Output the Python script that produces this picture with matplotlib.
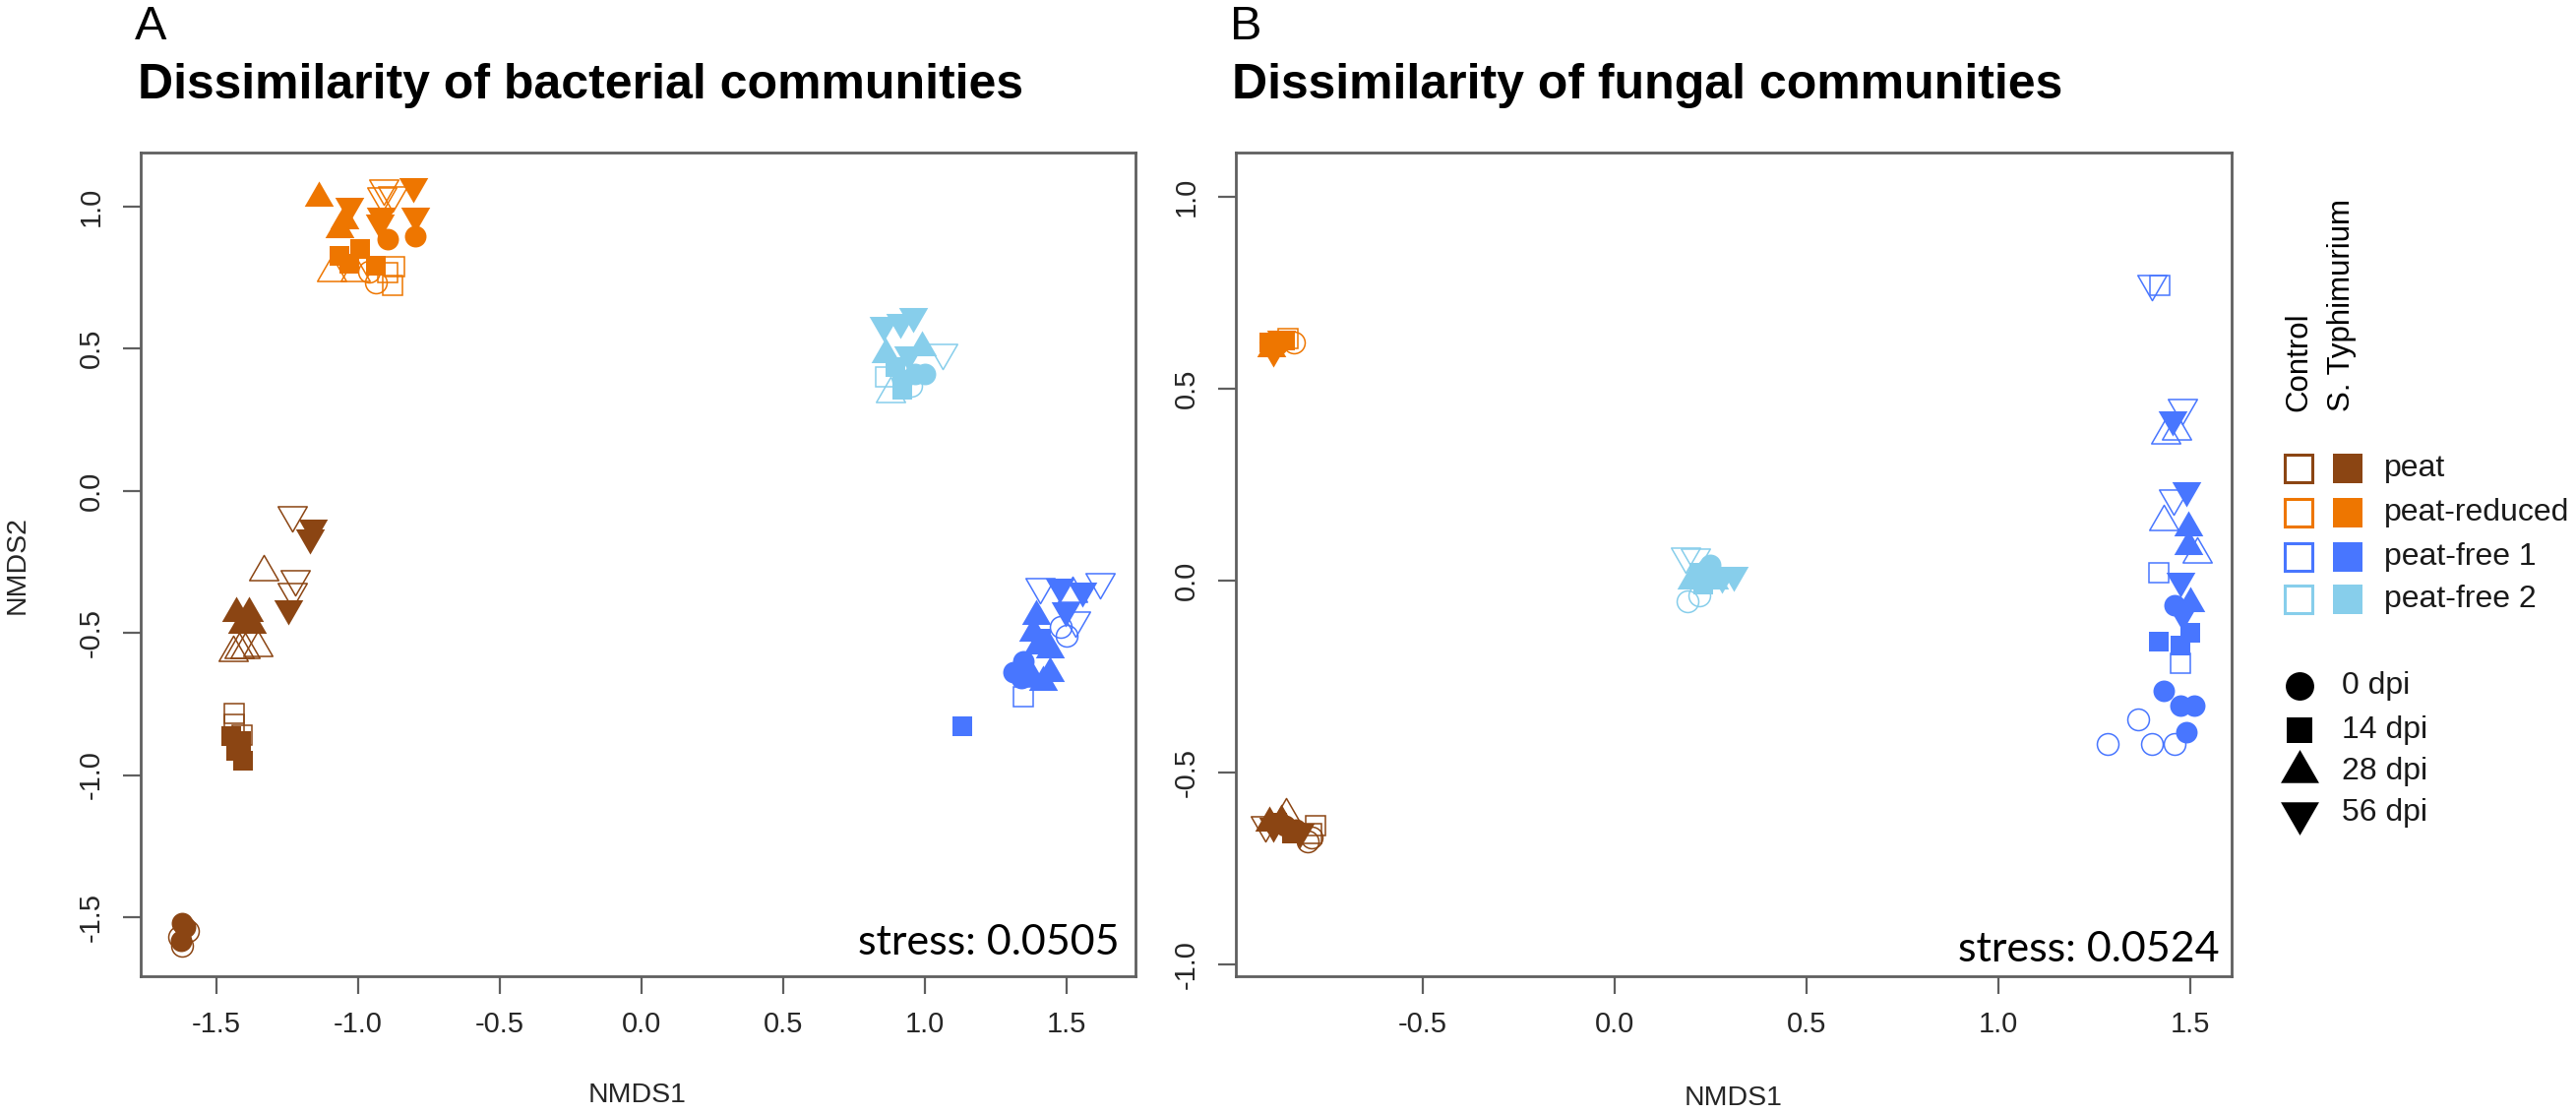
import matplotlib
matplotlib.use("Agg")
import matplotlib.pyplot as plt
from matplotlib.path import Path

plt.rcParams['font.family'] = ['Liberation Sans', 'DejaVu Sans']
plt.rcParams['axes.unicode_minus'] = False

# ---------------- data ----------------
substrates = ['peat', 'peat-reduced', 'peat-free 1', 'peat-free 2']
sub_colors = ['#8B4513', '#EE7600', '#4876FF', '#87CEEB']
dpi_levels = [0, 14, 28, 56]
dpi_labels = ['0 dpi', '14 dpi', '28 dpi', '56 dpi']
treatments = ['Control', 'S. Typhimurium']
stress_bac = '0.0505'
stress_fun = '0.0524'

# bacterial NMDS (panel A); sub = substrate index, inf = 1 for S. Typhimurium, 0 for control
bac_x = [-1.62, -1.61, -1.625, -1.63, -1.60, -1.62, -1.436, -1.436, -1.41, -1.448, -1.413, -1.43, -1.407,
         -1.431, -1.384, -1.41, -1.373, -1.419, -1.40, -1.355, -1.44, -1.332, -1.234, -1.222, -1.234, -1.159, -1.17, -1.245,
         -0.80, -0.894, -0.937, -0.96, -1.066, -0.994, -0.937, -1.03, -0.894, -0.879, -0.87,
         -1.139, -1.066, -1.05, -1.095, -1.009, -1.031, -0.807, -0.80, -0.923, -0.92, -0.908, -0.915, -0.879,
         1.3125, 1.347, 1.34, 1.48, 1.50, 1.133, 1.41, 1.347,
         1.393, 1.382, 1.40, 1.44, 1.417, 1.38, 1.44, 1.52, 1.475, 1.556, 1.498, 1.405, 1.619, 1.532,
         0.965, 0.919, 1.0, 0.95, 0.896, 0.92, 0.86, 0.861, 0.988, 0.878, 0.913, 0.959, 0.854, 0.94, 1.064]
bac_y = [-1.52, -1.535, -1.585, -1.57, -1.55, -1.60, -0.782, -0.822, -0.86, -0.863, -0.88, -0.915, -0.949,
         -0.43, -0.43, -0.471, -0.471, -0.557, -0.557, -0.551, -0.57, -0.286, -0.084, -0.309, -0.355, -0.13, -0.165, -0.413,
         0.897, 0.886, 0.733, 0.77, 0.827, 0.85, 0.792, 0.80, 0.768, 0.721, 0.79,
         1.032, 0.921, 0.95, 0.768, 0.768, 1.003, 1.073, 0.968, 0.945, 0.97, 1.067, 1.038, 1.04,
         -0.638, -0.60, -0.66, -0.48, -0.51, -0.828, -0.52, -0.723,
         -0.442, -0.50, -0.546, -0.56, -0.672, -0.66, -0.64, -0.36, -0.338, -0.35, -0.419, -0.338, -0.32, -0.453,
         0.41, 0.389, 0.41, 0.37, 0.436, 0.354, 0.40, 0.48, 0.505, 0.343, 0.596, 0.614, 0.585, 0.48, 0.487]
bac_sub = [0] * 28 + [1] * 24 + [2] * 22 + [3] * 15
bac_dpi = ([0] * 6 + [14] * 7 + [28] * 9 + [56] * 6 +
           [0] * 4 + [14] * 7 + [28] * 5 + [56] * 8 +
           [0] * 5 + [14] * 3 + [28] * 8 + [56] * 6 +
           [0] * 4 + [14] * 3 + [28] * 3 + [56] * 5)
bac_inf = ([1, 1, 1, 0, 0, 0] + [0, 0, 0, 1, 1, 1, 1] + [1, 1, 1, 1, 0, 0, 0, 0, 0] + [0, 0, 0, 1, 1, 1] +
           [1, 1, 0, 0] + [1, 1, 1, 1, 0, 0, 0] + [1, 1, 1, 0, 0] + [1, 1, 1, 1, 1, 0, 0, 0] +
           [1, 1, 1, 0, 0] + [1, 1, 0] + [1, 1, 1, 1, 1, 1, 1, 0] + [1, 1, 1, 0, 0, 0] +
           [1, 1, 1, 0] + [1, 1, 0] + [1, 1, 0] + [1, 1, 1, 1, 0])

# fungal NMDS (panel B)
fun_x = [-0.86, -0.83, -0.79, -0.80, -0.88, -0.84, -0.78, -0.79, -0.90, -0.87, -0.857, -0.89, -0.82, -0.91,
         -0.88, -0.835, -0.90, -0.86, -0.85, -0.895, -0.87, -0.89,
         1.43, 1.475, 1.51, 1.49, 1.46, 1.364, 1.285, 1.40, 1.46,
         1.50, 1.417, 1.475, 1.42, 1.417, 1.475,
         1.495, 1.495, 1.50, 1.435, 1.465, 1.43, 1.518,
         1.453, 1.49, 1.475, 1.48, 1.40, 1.48, 1.457,
         0.24, 0.25, 0.19, 0.22, 0.22, 0.23, 0.26, 0.20, 0.28, 0.31, 0.185, 0.21]
fun_y = [-0.64, -0.65, -0.67, -0.68, -0.63, -0.66, -0.64, -0.66, -0.63, -0.625, -0.61, -0.64, -0.655, -0.635,
         0.615, 0.62, 0.62, 0.625, 0.63, 0.605, 0.63, 0.60,
         -0.287, -0.326, -0.326, -0.395, -0.065, -0.362, -0.425, -0.425, -0.425,
         -0.136, -0.16, -0.17, 0.77, 0.02, -0.215,
         0.138, 0.09, -0.058, 0.378, 0.39, 0.153, 0.07,
         0.42, 0.236, 0.0, -0.087, 0.775, 0.45, 0.216,
         0.03, 0.04, -0.055, -0.04, 0.02, -0.01, 0.0, 0.0, 0.01, 0.015, 0.065, 0.06]
fun_sub = [0] * 14 + [1] * 8 + [2] * 29 + [3] * 12
fun_dpi = ([0] * 4 + [14] * 4 + [28] * 3 + [56] * 3 +
           [0] * 2 + [14] * 3 + [28] * 1 + [56] * 2 +
           [0] * 9 + [14] * 6 + [28] * 7 + [56] * 7 +
           [0] * 4 + [14] * 2 + [28] * 2 + [56] * 4)
fun_inf = ([1, 1, 0, 0] + [1, 1, 0, 0] + [1, 1, 0] + [1, 1, 0] +
           [1, 0] + [1, 1, 0] + [1] + [1, 1] +
           [1, 1, 1, 1, 1, 0, 0, 0, 0] + [1, 1, 1, 0, 0, 0] + [1, 1, 1, 0, 0, 0, 0] + [1, 1, 1, 1, 0, 0, 0] +
           [1, 1, 0, 0] + [1, 1] + [1, 1] + [1, 1, 0, 0])

# ---------------- markers (R style pch shapes) ----------------
def triangle(up=True):
    s = 1 if up else -1
    verts = [(0, 1.5551 * s), (1.3468, -0.7776 * s), (-1.3468, -0.7776 * s), (0, 1.5551 * s)]
    return Path(verts, [Path.MOVETO, Path.LINETO, Path.LINETO, Path.CLOSEPOLY])

shape = {0: 'o', 14: 's', 28: triangle(True), 56: triangle(False)}
size_k = {0: 2.0, 14: 1.772, 28: 3.11, 56: 3.11}   # markersize = k * radius


def draw_points(ax, xs, ys, subs, dpis, infs, r=7.9):
    for x, y, s, d, f in zip(xs, ys, subs, dpis, infs):
        col = sub_colors[s]
        if f:
            ax.plot(x, y, linestyle='none', marker=shape[d], markersize=size_k[d] * r,
                    markerfacecolor=col, markeredgewidth=0)
        else:
            ax.plot(x, y, linestyle='none', marker=shape[d], markersize=size_k[d] * r,
                    markerfacecolor='none', markeredgecolor=col, markeredgewidth=1.1)


W, H = 2618, 1132
fig = plt.figure(figsize=(W / 100, H / 100), dpi=100)

axA = fig.add_axes([143 / W, 1 - 992 / H, 1011 / W, 837 / H])
axB = fig.add_axes([1256 / W, 1 - 992 / H, 1012 / W, 837 / H])

draw_points(axA, bac_x, bac_y, bac_sub, bac_dpi, bac_inf)
draw_points(axB, fun_x, fun_y, fun_sub, fun_dpi, fun_inf)

axA.set_xlim(-1.767, 1.743)
axA.set_ylim(-1.708, 1.19)
axB.set_xlim(-0.987, 1.608)
axB.set_ylim(-1.031, 1.115)

ticksA_x = [-1.5, -1.0, -0.5, 0.0, 0.5, 1.0, 1.5]
ticksA_y = [-1.5, -1.0, -0.5, 0.0, 0.5, 1.0]
ticksB_x = [-0.5, 0.0, 0.5, 1.0, 1.5]
ticksB_y = [-1.0, -0.5, 0.0, 0.5, 1.0]

for ax, tx, ty in ((axA, ticksA_x, ticksA_y), (axB, ticksB_x, ticksB_y)):
    ax.set_xticks(tx, ['%.1f' % t for t in tx])
    ax.set_yticks(ty, ['%.1f' % t for t in ty], rotation=90, va='center')
    for sp in ax.spines.values():
        sp.set_color('#5f5f5f')
        sp.set_linewidth(2.0)
    ax.tick_params(direction='out', length=13, width=1.6, color='#5f5f5f',
                   labelsize=21, labelcolor='#262626')
    ax.tick_params(axis='x', pad=12)
    ax.tick_params(axis='y', pad=13)

axA.text(0.984, 0.026, 'stress: ' + stress_bac, transform=axA.transAxes, ha='right',
         va='baseline', fontsize=31, family=['Lato', 'DejaVu Sans'])
axB.text(0.988, 0.018, 'stress: ' + stress_fun, transform=axB.transAxes, ha='right',
         va='baseline', fontsize=31, family=['Lato', 'DejaVu Sans'])

# axis labels and titles
fig.text(648 / W, 1 - 1113 / H, 'NMDS1', ha='center', va='center', fontsize=20.5, color='#262626')
fig.text(1762 / W, 1 - 1116 / H, 'NMDS1', ha='center', va='center', fontsize=20.5, color='#262626')
fig.text(18 / W, 1 - 574 / H, 'NMDS2', ha='center', va='center', rotation=90, fontsize=20.5, color='#262626')

fig.text(137 / W, 1 - 40 / H, 'A', ha='left', va='baseline', fontsize=35)
fig.text(140 / W, 1 - 100 / H, 'Dissimilarity of bacterial communities', ha='left', va='baseline',
         fontsize=36, fontweight='bold')
fig.text(1250 / W, 1 - 40 / H, 'B', ha='left', va='baseline', fontsize=35)
fig.text(1252 / W, 1 - 100 / H, 'Dissimilarity of fungal communities', ha='left', va='baseline',
         fontsize=36, fontweight='bold')

# ---------------- legend (drawn in pixel space on an overlay) ----------------
leg = fig.add_axes([0, 0, 1, 1])
leg.set_xlim(0, W)
leg.set_ylim(H, 0)
leg.axis('off')

col_open, col_fill = 2336, 2386
leg.text(col_open, 418, treatments[0], rotation=90, ha='center', va='bottom', fontsize=22.5)
leg.text(col_fill - 6, 418, treatments[1], rotation=90, ha='center', va='bottom', fontsize=22.5)

row_y = [476, 521, 566, 609]
for name, col, yy in zip(substrates, sub_colors, row_y):
    leg.plot(col_open, yy, marker='s', markersize=20, markerfacecolor='none',
             markeredgecolor=col, markeredgewidth=2.2, linestyle='none')
    leg.plot(col_fill, yy, marker='s', markersize=22, markerfacecolor=col,
             markeredgewidth=0, linestyle='none')
    leg.text(2423, yy, name, ha='left', va='center', fontsize=23, color='#1a1a1a')

shape_y = [697, 742, 784, 826]
for d, lab, yy in zip(dpi_levels, dpi_labels, shape_y):
    leg.plot(2337, yy, marker=shape[d], markersize=size_k[d] * 10.4, markerfacecolor='black',
             markeredgewidth=0, linestyle='none')
    leg.text(2380, yy, lab, ha='left', va='center', fontsize=23, color='#1a1a1a')

fig.savefig('out.png', dpi=100)
